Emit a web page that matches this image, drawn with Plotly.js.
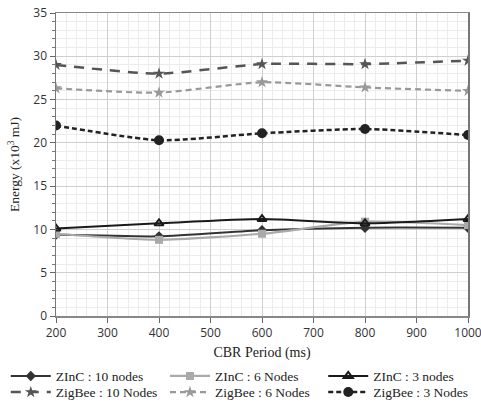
<!DOCTYPE html>
<html><head><meta charset="utf-8">
<script src="https://cdn.plot.ly/plotly-3.0.1.min.js"></script>
<style>html,body{margin:0;padding:0;background:#fff}#c{width:481px;height:403px}</style>
</head><body><div id="c"></div>
<script>
const periods = [200, 400, 600, 800, 1000];
const zinc10 = [9.4, 9.2, 9.9, 10.2, 10.2];
const zinc6 = [9.5, 8.8, 9.5, 10.9, 10.5];
const zinc3 = [10.1, 10.7, 11.2, 10.7, 11.2];
const zigbee10 = [29.0, 28.0, 29.1, 29.1, 29.5];
const zigbee6 = [26.3, 25.8, 27.0, 26.4, 26.0];
const zigbee3 = [22.0, 20.3, 21.1, 21.6, 20.9];
const names = ["ZInC : 10 nodes", "ZInC : 6 Nodes", "ZInC : 3 nodes", "ZigBee : 10 Nodes", "ZigBee : 6 Nodes", "ZigBee : 3 Nodes"];

function tr(y, name, color, dash, width, symbol, msize, leg, mcolor, mline) {
  return {x: periods, y: y, name: name, type: 'scatter', mode: 'lines+markers', legend: leg,
    line: {color: color, dash: dash, width: width, shape: 'spline', smoothing: 0.6},
    marker: {symbol: symbol, size: msize, color: mcolor || color, line: mline || {width: 0}}};
}
const data = [
  tr(zinc10, names[0], '#333333', 'solid', 2, 'diamond', 8, 'legend'),
  tr(zinc6, names[1], '#aaaaaa', 'solid', 2.2, 'square', 8, 'legend2'),
  tr(zinc3, names[2], '#1a1a1a', 'solid', 2, 'triangle-up-open', 8, 'legend3', '#1a1a1a', {width: 2, color: '#1a1a1a'}),
  tr(zigbee10, names[3], '#555555', '10px,8px', 2.5, 'star', 9, 'legend4'),
  tr(zigbee6, names[4], '#999999', '6px,4px', 2.2, 'star', 9, 'legend5'),
  tr(zigbee3, names[5], '#222222', '5px,3px', 2.5, 'circle', 10, 'legend6')
];
function leg(x, y) {
  return {orientation: 'h', xref: 'container', yref: 'container', x: x, y: y, yanchor: 'top', xanchor: 'left',
    tracegroupgap: 0, itemwidth: 40,
    bgcolor: 'rgba(0,0,0,0)',
    font: {family: 'Liberation Serif, serif', size: 13.5, color: '#222'}};
}
const c1 = 0.012, c2 = 0.343, c3 = 0.672, r1 = 0.105, r2 = 0.065;
const layout = {
  width: 481, height: 403,
  margin: {l: 56, r: 13, t: 13, b: 87, autoexpand: false},
  paper_bgcolor: '#fff', plot_bgcolor: '#fff',
  showlegend: true,
  legend: leg(c1, r1), legend2: leg(c2, r1), legend3: leg(c3, r1),
  legend4: leg(c1, r2), legend5: leg(c2, r2), legend6: leg(c3, r2),
  xaxis: {range: [200, 1000], dtick: 100, tick0: 200,
    showgrid: true, gridcolor: '#cfcfcf', gridwidth: 1,
    minor: {dtick: 20, showgrid: true, gridcolor: '#ececec', gridwidth: 1},
    showline: true, linecolor: '#888', linewidth: 1.5, mirror: true,
    ticks: 'outside', ticklen: 5, tickcolor: '#666', ticklabeloverflow: 'allow',
    tickfont: {family: 'Open Sans, sans-serif', size: 12, color: '#333'},
    zeroline: false,
    title: {text: 'CBR Period (ms)', font: {family: 'Liberation Serif, serif', size: 14, color: '#222'}, standoff: 8}},
  yaxis: {range: [0, 35], dtick: 5,
    showgrid: true, gridcolor: '#cfcfcf', gridwidth: 1,
    minor: {dtick: 1, showgrid: true, gridcolor: '#ececec', gridwidth: 1, ticks: 'outside', ticklen: 3, tickcolor: '#777'},
    showline: true, linecolor: '#777', linewidth: 1.5, mirror: true,
    ticks: 'outside', ticklen: 5, tickcolor: '#666',
    tickfont: {family: 'Open Sans, sans-serif', size: 12, color: '#333'},
    zeroline: false,
    title: {text: 'Energy (x10<sup>3</sup> mJ)', font: {family: 'Liberation Serif, serif', size: 13.5, color: '#222'}, standoff: 10}}
};
Plotly.newPlot('c', data, layout, {displayModeBar: false, staticPlot: true});
</script>
</body></html>
